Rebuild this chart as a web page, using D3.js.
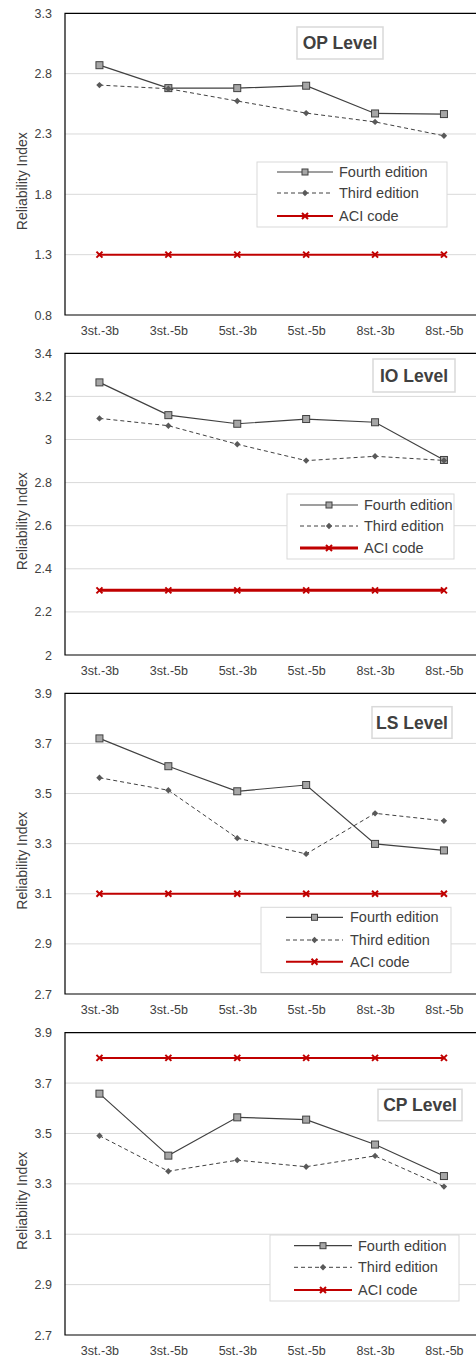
<!DOCTYPE html>
<html><head><meta charset="utf-8">
<script src="https://cdn.jsdelivr.net/npm/d3@7/dist/d3.min.js"></script>
<style>body{margin:0;background:#fff}svg{display:block}text{font-family:"Liberation Sans",Arial,sans-serif;fill:#404040}</style>
</head><body><svg id="c" width="476" height="1358"></svg>
<script>
const categories = ["3st.-3b","3st.-5b","5st.-3b","5st.-5b","8st.-3b","8st.-5b"];
const seriesNames = ["Fourth edition","Third edition","ACI code"];

const opFourth = [2.87,2.68,2.68,2.70,2.47,2.465];
const opThird  = [2.705,2.675,2.573,2.473,2.40,2.285];
const opAci    = [1.3,1.3,1.3,1.3,1.3,1.3];
const opTicks  = [0.8,1.3,1.8,2.3,2.8,3.3];

const ioFourth = [3.265,3.113,3.073,3.095,3.08,2.905];
const ioThird  = [3.098,3.064,2.978,2.902,2.922,2.903];
const ioAci    = [2.3,2.3,2.3,2.3,2.3,2.3];
const ioTicks  = [2,2.2,2.4,2.6,2.8,3,3.2,3.4];

const lsFourth = [3.72,3.609,3.509,3.534,3.299,3.273];
const lsThird  = [3.563,3.513,3.322,3.259,3.421,3.391];
const lsAci    = [3.1,3.1,3.1,3.1,3.1,3.1];
const lsTicks  = [2.7,2.9,3.1,3.3,3.5,3.7,3.9];

const cpFourth = [3.658,3.412,3.564,3.555,3.456,3.331];
const cpThird  = [3.491,3.35,3.394,3.368,3.411,3.289];
const cpAci    = [3.8,3.8,3.8,3.8,3.8,3.8];
const cpTicks  = [2.7,2.9,3.1,3.3,3.5,3.7,3.9];

const panels = [
  {title:"OP Level", fourth:opFourth, third:opThird, aci:opAci, ticks:opTicks,
   top:13.3, bottom:315, aciW:2,
   tbox:[297,27,86,32], lbox:[257,162,190,65], lrows:[172,193,216], lx:[277,333,339]},
  {title:"IO Level", fourth:ioFourth, third:ioThird, aci:ioAci, ticks:ioTicks,
   top:353.3, bottom:655, aciW:3,
   tbox:[373,359,82,33], lbox:[287,494,167,65], lrows:[505,526,548], lx:[300,358,364]},
  {title:"LS Level", fourth:lsFourth, third:lsThird, aci:lsAci, ticks:lsTicks,
   top:693.3, bottom:994, aciW:2,
   tbox:[372,706.7,80,31.6], lbox:[261,907.3,190,65.4], lrows:[917.3,940,961.7], lx:[286,343,350]},
  {title:"CP Level", fourth:cpFourth, third:cpThird, aci:cpAci, ticks:cpTicks,
   top:1032.7, bottom:1335, aciW:2,
   tbox:[378,1089.3,84,31.4], lbox:[270,1235,189,66], lrows:[1245.7,1267.3,1290], lx:[294,352,358]}
];

const svg = d3.select("#c");
const left = 65, right = 478.4;
const x = d3.scalePoint().domain(categories).range([left,right]).padding(0.5);
const dark = "#404040", red = "#c00000";

function drawMarker(g, type, cx, cy, legend){
  if(type===0){
    const s = legend?6:7;
    g.append("rect").attr("x",cx-s/2).attr("y",cy-s/2).attr("width",s).attr("height",s)
      .attr("fill","#a6a6a6").attr("stroke",dark).attr("stroke-width",1);
  } else if(type===1){
    const s = 3.2;
    g.append("path").attr("d",`M${cx},${cy-s}L${cx+s},${cy}L${cx},${cy+s}L${cx-s},${cy}Z`)
      .attr("fill","#595959");
  } else {
    const s = 3;
    g.append("path").attr("d",`M${cx-s},${cy-s}L${cx+s},${cy+s}M${cx+s},${cy-s}L${cx-s},${cy+s}`)
      .attr("stroke",red).attr("stroke-width",2).attr("fill","none");
  }
}

panels.forEach(p=>{
  const g = svg.append("g");
  const dom = d3.extent(p.ticks);
  const y = d3.scaleLinear().domain(dom).range([p.bottom,p.top]);
  g.append("g").selectAll("line").data(p.ticks.slice(1,-1)).join("line")
    .attr("x1",left).attr("x2",476).attr("y1",d=>y(d)).attr("y2",d=>y(d))
    .attr("stroke","#d9d9d9").attr("stroke-width",1);
  g.append("path").attr("d",`M476,${p.top}H${left}V${p.bottom}H476`)
    .attr("fill","none").attr("stroke","#000").attr("stroke-width",1.2);
  const yAxis = d3.axisLeft(y).tickValues(p.ticks).tickSize(0).tickPadding(13).tickFormat(d3.format("~g"));
  const ya = g.append("g").attr("transform",`translate(${left},0)`).call(yAxis);
  ya.select(".domain").remove();
  ya.selectAll("text").attr("font-size",12.5).attr("fill","#404040").attr("font-family","Liberation Sans, Arial, sans-serif");
  const xAxis = d3.axisBottom(x).tickSize(0).tickPadding(11);
  const xa = g.append("g").attr("transform",`translate(0,${p.bottom})`).call(xAxis);
  xa.select(".domain").remove();
  xa.selectAll("text").attr("font-size",12.5).attr("fill","#404040").attr("font-family","Liberation Sans, Arial, sans-serif");
  g.append("text").attr("transform",`translate(27,${(p.top+p.bottom)/2+17}) rotate(-90)`)
    .attr("text-anchor","middle").attr("font-size",14).text("Reliability Index");
  const sets = [p.fourth,p.third,p.aci];
  sets.forEach((vals,i)=>{
    const line = d3.line().x((d,j)=>x(categories[j])).y(d=>y(d));
    const path = g.append("path").datum(vals).attr("d",line).attr("fill","none");
    if(i===0) path.attr("stroke",dark).attr("stroke-width",1.2);
    else if(i===1) path.attr("stroke",dark).attr("stroke-width",1).attr("stroke-dasharray","4,3");
    else path.attr("stroke",red).attr("stroke-width",p.aciW);
    vals.forEach((v,j)=>drawMarker(g,i,x(categories[j]),y(v),false));
  });
  const [tx,ty,tw,th] = p.tbox;
  g.append("rect").attr("x",tx).attr("y",ty).attr("width",tw).attr("height",th)
    .attr("fill","#fff").attr("stroke","#d9d9d9").attr("stroke-width",1.5);
  g.append("text").attr("x",tx+tw/2).attr("y",ty+th/2).attr("dominant-baseline","central")
    .attr("text-anchor","middle").attr("font-weight","bold").attr("font-size",17.5).attr("fill","#000").text(p.title);
  const [lx,ly,lw,lh] = p.lbox;
  g.append("rect").attr("x",lx).attr("y",ly).attr("width",lw).attr("height",lh)
    .attr("fill","#fff").attr("stroke","#d9d9d9").attr("stroke-width",1);
  seriesNames.forEach((name,i)=>{
    const ry = p.lrows[i];
    const l = g.append("line").attr("x1",p.lx[0]).attr("x2",p.lx[1]).attr("y1",ry).attr("y2",ry);
    if(i===0) l.attr("stroke",dark).attr("stroke-width",1.2);
    else if(i===1) l.attr("stroke",dark).attr("stroke-width",1).attr("stroke-dasharray","4,3");
    else l.attr("stroke",red).attr("stroke-width",p.aciW);
    drawMarker(g,i,(p.lx[0]+p.lx[1])/2,ry,true);
    g.append("text").attr("x",p.lx[2]).attr("y",ry).attr("dominant-baseline","central")
      .attr("font-size",14.5).text(name);
  });
});
</script></body></html>
